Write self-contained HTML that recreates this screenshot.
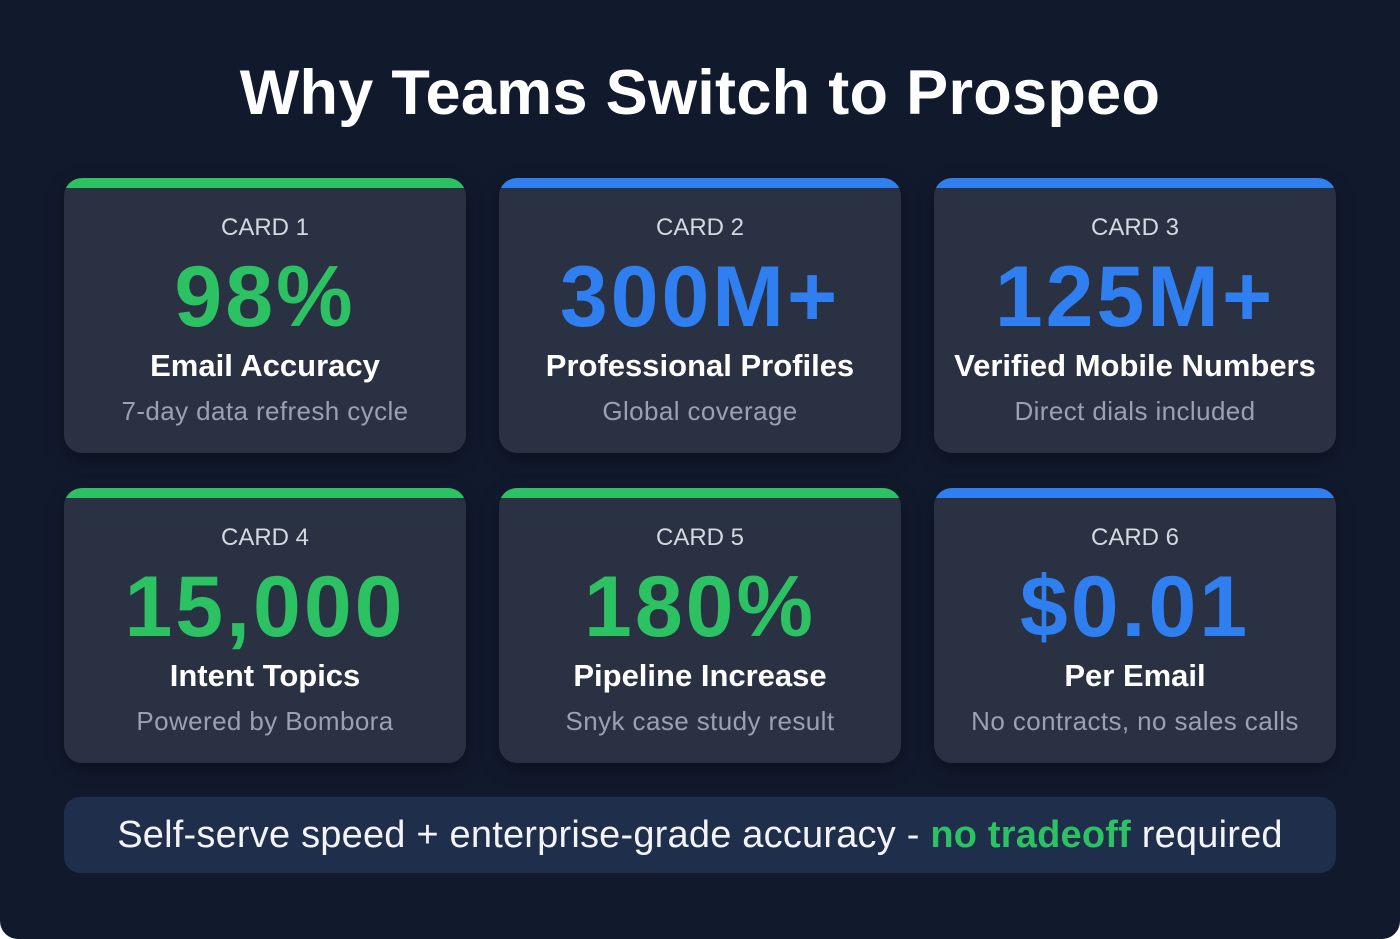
<!DOCTYPE html>
<html><head><meta charset="utf-8"><style>
body{margin:0;background:#fff;}
#frame{position:absolute;left:0;top:0;width:1400px;height:939px;background:#111a2d;border-radius:0 0 18px 18px;overflow:hidden;font-family:"Liberation Sans",sans-serif;}
h1{position:absolute;left:0;width:1400px;top:57px;margin:0;text-align:center;color:#fff;font-size:63px;font-weight:bold;letter-spacing:0.3px;}
.card{position:absolute;width:402px;height:275px;background:#2a3142;border-radius:18px;overflow:hidden;box-shadow:0 6px 18px rgba(0,0,0,0.35);text-align:center;}
.bar{position:absolute;left:0;top:0;width:100%;height:10px;}
.lab{position:absolute;top:36px;width:100%;color:#d4d8e0;font-size:24px;}
.num{position:absolute;top:70px;width:100%;font-size:86px;font-weight:bold;letter-spacing:3px;}
.tit{position:absolute;top:170px;width:100%;color:#fff;font-size:31px;font-weight:bold;}
.sub{position:absolute;top:218px;width:100%;color:#9aa2b2;font-size:26px;letter-spacing:0.4px;}
.g{color:#2cc163}.b{color:#2f7ff0}
#band{position:absolute;left:64px;top:797px;width:1272px;height:76px;background:#1f2e4a;border-radius:16px;color:#f2f4f8;font-size:38px;text-align:center;line-height:76px;letter-spacing:0.2px;}
</style></head><body>
<div id="frame">
<h1>Why Teams Switch to Prospeo</h1>
<div class="card" style="left:64px;top:178px"><div class="bar" style="background:#2cc163"></div><div class="lab">CARD 1</div><div class="num g">98%</div><div class="tit">Email Accuracy</div><div class="sub">7-day data refresh cycle</div></div>
<div class="card" style="left:499px;top:178px"><div class="bar" style="background:#2f7ff0"></div><div class="lab">CARD 2</div><div class="num b">300M+</div><div class="tit">Professional Profiles</div><div class="sub">Global coverage</div></div>
<div class="card" style="left:934px;top:178px"><div class="bar" style="background:#2f7ff0"></div><div class="lab">CARD 3</div><div class="num b">125M+</div><div class="tit">Verified Mobile Numbers</div><div class="sub">Direct dials included</div></div>
<div class="card" style="left:64px;top:488px"><div class="bar" style="background:#2cc163"></div><div class="lab">CARD 4</div><div class="num g">15,000</div><div class="tit">Intent Topics</div><div class="sub">Powered by Bombora</div></div>
<div class="card" style="left:499px;top:488px"><div class="bar" style="background:#2cc163"></div><div class="lab">CARD 5</div><div class="num g">180%</div><div class="tit">Pipeline Increase</div><div class="sub">Snyk case study result</div></div>
<div class="card" style="left:934px;top:488px"><div class="bar" style="background:#2f7ff0"></div><div class="lab">CARD 6</div><div class="num b">$0.01</div><div class="tit">Per Email</div><div class="sub">No contracts, no sales calls</div></div>
<div id="band">Self-serve speed + enterprise-grade accuracy - <b class="g">no tradeoff</b> required</div>
</div>
</body></html>
